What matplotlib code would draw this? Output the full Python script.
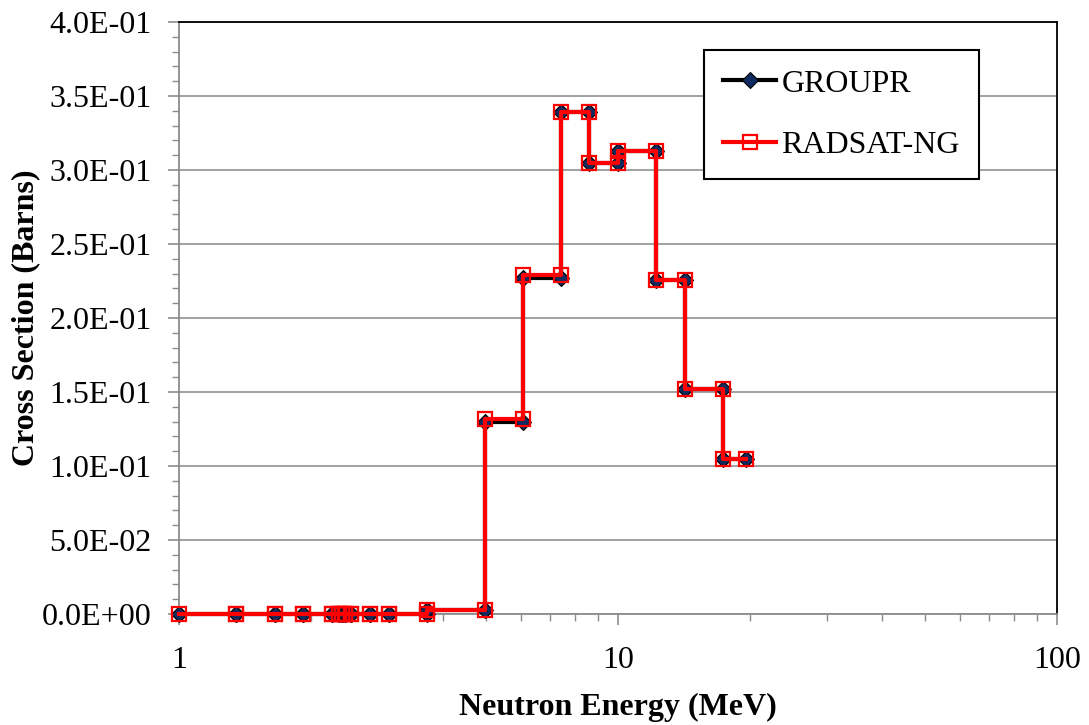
import numpy as np
import matplotlib
matplotlib.use("Agg")
import matplotlib.pyplot as plt
from matplotlib.ticker import FixedLocator, MultipleLocator, FuncFormatter, LogLocator, NullFormatter

# group boundaries (MeV) and group-averaged cross sections (barns)
energy_bounds = [1.0, 1.35, 1.65, 1.92, 2.23, 2.31, 2.35, 2.39, 2.47, 2.73, 3.01,
                 3.68, 4.97, 6.07, 7.41, 8.61, 10.0, 12.2, 14.2, 17.3, 19.6]
groupr_xs = [0.0, 0.0, 0.0, 0.0, 0.0, 0.0, 0.0, 0.0, 0.0, 0.0, 0.0,
             0.0028, 0.130, 0.227, 0.339, 0.305, 0.313, 0.226, 0.152, 0.105]
radsat_xs = [0.0, 0.0, 0.0, 0.0, 0.0, 0.0, 0.0, 0.0, 0.0, 0.0, 0.0,
             0.0028, 0.132, 0.229, 0.339, 0.305, 0.313, 0.226, 0.152, 0.105]


def step_points(bounds, values):
    # each group contributes a point at its lower and upper edge
    x, y = [], []
    for i, v in enumerate(values):
        x += [bounds[i], bounds[i + 1]]
        y += [v, v]
    return x, y


plt.rcParams['font.family'] = ['Liberation Serif', 'DejaVu Serif']
FS = 23

fig = plt.figure(figsize=(10.89, 7.25), dpi=100)
ax = fig.add_axes([0.1644, 0.1531, 0.9706 - 0.1644, 0.9697 - 0.1531])

gx, gy = step_points(energy_bounds, groupr_xs)
rx, ry = step_points(energy_bounds, radsat_xs)

ax.plot(gx, gy, color='black', lw=3, marker='D', markersize=8,
        markerfacecolor='#0f2a5e', markeredgecolor='black', markeredgewidth=0.8,
        label='GROUPR', zorder=3, clip_on=False)
ax.plot(rx, ry, color='#ff0000', lw=3, marker='s', markersize=10.5,
        markerfacecolor='none', markeredgecolor='#ff0000', markeredgewidth=1.6,
        label='RADSAT-NG', zorder=4, clip_on=False)

ax.set_xscale('log')
ax.set_xlim(1, 100)
ax.set_ylim(0, 0.4)

ax.xaxis.set_major_locator(FixedLocator([1, 10, 100]))
ax.xaxis.set_major_formatter(FuncFormatter(lambda v, p: '%d' % v))
ax.xaxis.set_minor_locator(LogLocator(base=10, subs=np.arange(2, 10)))
ax.xaxis.set_minor_formatter(NullFormatter())

ax.yaxis.set_major_locator(MultipleLocator(0.05))
ax.yaxis.set_minor_locator(MultipleLocator(0.01))
ax.yaxis.set_major_formatter(FuncFormatter(lambda v, p: '%.1E' % v))

ax.grid(axis='y', which='major', color='#999999', lw=1.3)
ax.set_axisbelow(True)

for side in ['left', 'bottom']:
    ax.spines[side].set_color('#8c8c8c')
    ax.spines[side].set_linewidth(1.3)
for side in ['top', 'right']:
    ax.spines[side].set_color('black')
    ax.spines[side].set_linewidth(1.3)

ax.tick_params(axis='both', which='major', direction='out', length=8, width=1.2,
               color='#8c8c8c', labelsize=FS)
ax.tick_params(axis='both', which='minor', direction='out', length=5, width=1.0,
               color='#8c8c8c')
ax.tick_params(axis='x', which='major', pad=15)
ax.tick_params(axis='y', which='major', pad=12)

ax.set_xlabel('Neutron Energy (MeV)', fontsize=FS, fontweight='bold', labelpad=13)
ax.set_ylabel('Cross Section (Barns)', fontsize=FS, fontweight='bold', labelpad=1)

leg = ax.legend(loc='upper left', bbox_to_anchor=(704 / 1089, 1 - 50 / 725),
                bbox_transform=fig.transFigure, borderaxespad=0, fontsize=FS,
                frameon=True, fancybox=False, edgecolor='black', framealpha=1,
                handlelength=1.66, handletextpad=0.16, labelspacing=1.0,
                borderpad=0.6)
leg.get_frame().set_linewidth(1.5)

fig.savefig('out.png', dpi=100)
